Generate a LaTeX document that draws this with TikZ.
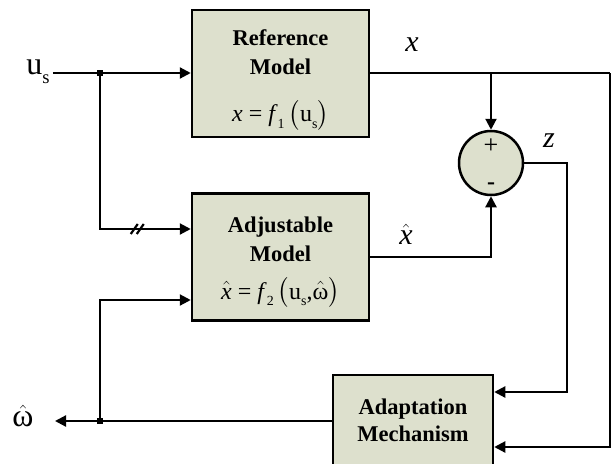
\documentclass[tikz,border=0pt]{standalone}
\usepackage{fontspec}
\usepackage{amsmath}
\setmainfont{Liberation Serif}
\usetikzlibrary{arrows.meta, positioning, calc}
\definecolor{boxfill}{RGB}{221,224,205}
\newcommand{\lowsub}[1]{\raisebox{-0.28em}{\scalebox{0.58}{#1}}}
\newcommand{\hatw}{$\hat{\hbox{ω}}$}
\newcommand{\hatx}{$\hat{\hbox{\itshape x}}$}
\tikzset{
  block/.style={rectangle, draw=black, fill=boxfill, line width=2.5pt,
    minimum width=177pt, minimum height=127pt, align=center,
    font=\fontsize{22.5}{29}\selectfont\bfseries},
  sumjunc/.style={circle, draw=black, fill=boxfill, line width=2.5pt,
    minimum size=64pt, inner sep=0pt},
  arrow/.style={-{Triangle[length=11pt,width=11pt]}, line width=2.2pt},
  line/.style={line width=2.2pt},
  dot/.style={rectangle, fill=black, minimum size=6pt, inner sep=0pt},
  lbl/.style={font=\fontsize{30}{32}\selectfont, inner sep=1pt}
}
\begin{document}
\begin{tikzpicture}[x=1pt, y=-1pt]
  \useasboundingbox (0,0) rectangle (612,463);
  \clip (0,0) rectangle (612,463);

  % Blocks
  \node[block] (ref) at (280.5,73.5)
    {\rule{0pt}{29pt}Reference\\Model\\[18pt]{\mdseries\fontsize{24}{26}\selectfont
     \textit{x} = \textit{f}\lowsub{1}\,$\bigl($u\lowsub{s}$\bigr)$}};
  \node[block] (adj) at (280.5,257)
    {\rule{0pt}{26pt}Adjustable\\Model\\[9pt]{\mdseries\fontsize{24}{26}\selectfont
     \hatx\ = \textit{f}\lowsub{2}\,$\bigl($u\lowsub{s},\hatw$\bigr)$}};
  \node[block, minimum width=160pt, minimum height=90pt,
    font=\fontsize{22.5}{27}\selectfont\bfseries] (adapt) at (413,420)
    {Adaptation\\Mechanism};
  \node[sumjunc] (sum) at (491,163) {};
  \node[font=\fontsize{26}{26}\selectfont] (plus) at ($(sum)+(0,-17)$) {+};
  \node[font=\fontsize{24}{24}\selectfont\bfseries] (minus) at ($(sum)+(0,23)$) {-};

  % Signal labels
  \node[lbl, font=\fontsize{32}{34}\selectfont, inner sep=3pt] (us) at (38,72) {u\lowsub{s}};
  \node[lbl, font=\fontsize{32}{34}\selectfont] (what) at (23,416) {\hatw};
  \node[lbl] (xlbl) at (412,45) {\textit{x}};
  \node[lbl] (zlbl) at (549,141) {\textit{z}};
  \node[lbl] (xhlbl) at (406,234) {\hatx};

  % Junctions and bends
  \node[dot] (j1) at (100,73) {};
  \node[dot] (j2) at (100,421) {};
  \coordinate (adjin1) at ($(adj.west)+(0,-28)$);
  \coordinate (adjin2) at ($(adj.west)+(0,43)$);
  \coordinate (adaptin1) at ($(adapt.east)+(0,-28)$);
  \coordinate (adaptin2) at ($(adapt.east)+(0,27)$);
  \coordinate (xr) at (610,73);
  \coordinate (wout) at (55,421);

  % Connectors
  \draw[line] (us.east |- j1) -- (j1);
  \draw[arrow] (j1) -- (ref.west |- j1);
  \draw[arrow] (j1) |- (adjin1);
  \draw[line] ($(adjin1)+(-60,5)$) -- ++(7,-10);
  \draw[line] ($(adjin1)+(-54,5)$) -- ++(7,-10);
  \draw[line] (ref.east |- xr) -- (xr);
  \draw[arrow] (sum.north |- xr) -- (sum.north);
  \draw[arrow] (xr) |- (adaptin2);
  \draw[arrow] (adj.east) -| (sum.south);
  \draw[arrow] (sum.east) -- ++(43,0) |- (adaptin1);
  \draw[line] (adapt.west |- j2) -- (j2);
  \draw[arrow] (j2) -- (wout);
  \draw[arrow] (j2) |- (adjin2);
\end{tikzpicture}
\end{document}
